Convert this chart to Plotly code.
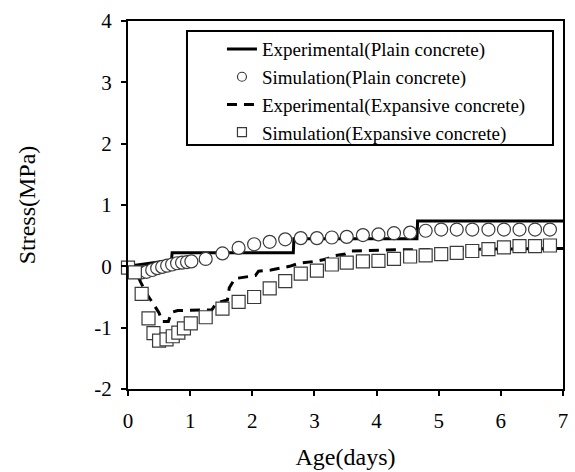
import plotly.graph_objects as go

# ---- data ----
exp_plain_x = [0, 0.70, 0.71, 2.66, 2.67, 4.65, 4.66, 7.0]
exp_plain_y = [0, 0.10, 0.22, 0.22, 0.45, 0.45, 0.74, 0.74]

sim_plain_x = [0.22, 0.30, 0.39, 0.47, 0.55, 0.63, 0.71, 0.79, 0.87, 0.95, 1.02, 1.25, 1.52,
               1.78, 2.03, 2.28, 2.53, 2.78, 3.04, 3.28, 3.52, 3.78, 4.03, 4.28, 4.54, 4.79,
               5.04, 5.29, 5.54, 5.80, 6.05, 6.30, 6.55, 6.79]
sim_plain_y = [-0.10, -0.09, -0.06, -0.03, -0.01, 0.01, 0.03, 0.05, 0.06, 0.07, 0.08, 0.12, 0.21,
               0.30, 0.36, 0.40, 0.44, 0.46, 0.46, 0.47, 0.48, 0.51, 0.52, 0.54, 0.55, 0.58,
               0.60, 0.60, 0.60, 0.60, 0.60, 0.60, 0.60, 0.60]

exp_exp_x = [0, 0.10, 0.20, 0.30, 0.40, 0.50, 0.55, 0.65, 0.70, 0.80, 1.35, 1.42, 1.60, 1.63,
             1.72, 1.90, 2.05, 2.10, 2.30, 2.45, 2.60, 2.75, 3.00, 3.20, 3.30, 3.50, 3.60,
             4.30, 7.0]
exp_exp_y = [0, -0.02, -0.25, -0.45, -0.60, -0.76, -0.90, -0.90, -0.75, -0.72, -0.71, -0.60,
             -0.55, -0.35, -0.20, -0.17, -0.15, -0.08, -0.06, -0.03, 0.00, 0.05, 0.08, 0.12,
             0.17, 0.20, 0.25, 0.27, 0.29]

sim_exp_x = [0.0, 0.11, 0.22, 0.33, 0.41, 0.50, 0.62, 0.72, 0.81, 0.90, 1.01, 1.25, 1.52, 1.78,
             2.03, 2.28, 2.53, 2.78, 3.04, 3.28, 3.52, 3.78, 4.03, 4.28, 4.54, 4.79, 5.04, 5.29,
             5.54, 5.80, 6.05, 6.30, 6.55, 6.79]
sim_exp_y = [-0.02, -0.10, -0.45, -0.85, -1.09, -1.21, -1.19, -1.14, -1.08, -1.01, -0.93, -0.83,
             -0.69, -0.58, -0.50, -0.36, -0.24, -0.12, -0.07, 0.03, 0.06, 0.08, 0.09, 0.12, 0.16,
             0.18, 0.20, 0.22, 0.25, 0.28, 0.31, 0.33, 0.33, 0.34]

x_ticks = [0, 1, 2, 3, 4, 5, 6, 7]
y_ticks = [-2, -1, 0, 1, 2, 3, 4]
y_ticktext = ["-2", "-1", "0", "1", "2", "3", "4"]

names = ["Experimental(Plain concrete)", "Simulation(Plain concrete)",
         "Experimental(Expansive concrete)", "Simulation(Expansive concrete)"]

FONT = "Liberation Serif, Times New Roman, serif"
DASH = "10px,7px"
MK_LINE = dict(color="#3a3a3a", width=1.2)

fig = go.Figure()

# data traces (no legend)
fig.add_trace(go.Scatter(x=exp_plain_x, y=exp_plain_y, mode="lines",
                         line=dict(color="black", width=3), showlegend=False))
fig.add_trace(go.Scatter(x=exp_exp_x, y=exp_exp_y, mode="lines",
                         line=dict(color="black", width=3, dash=DASH), showlegend=False))
fig.add_trace(go.Scatter(x=sim_plain_x, y=sim_plain_y, mode="markers",
                         marker=dict(symbol="circle", size=13, color="white", line=MK_LINE),
                         showlegend=False, cliponaxis=False))
fig.add_trace(go.Scatter(x=sim_exp_x, y=sim_exp_y, mode="markers",
                         marker=dict(symbol="square", size=13, color="white", line=MK_LINE),
                         showlegend=False, cliponaxis=False))

# legend entries
fig.add_trace(go.Scatter(x=[None], y=[None], mode="lines", name=names[0], legendgroup="a",
                         line=dict(color="black", width=3)))
fig.add_trace(go.Scatter(x=[None], y=[None], mode="markers", name=names[1], legendgroup="b",
                         marker=dict(symbol="circle", size=9, color="white", line=MK_LINE)))
fig.add_trace(go.Scatter(x=[None], y=[None], mode="lines", name=names[2], legendgroup="c",
                         line=dict(color="black", width=3, dash=DASH)))
fig.add_trace(go.Scatter(x=[None], y=[None], mode="markers", name=names[3], legendgroup="d",
                         marker=dict(symbol="square", size=9, color="white", line=MK_LINE)))

axis_common = dict(showgrid=False, zeroline=False, showline=True, linecolor="black",
                   linewidth=2, mirror=True, ticks="outside", ticklen=5, tickwidth=2,
                   tickcolor="black", automargin=False,
                   tickfont=dict(family=FONT, size=21, color="black"))

fig.update_layout(
    width=575, height=472,
    margin=dict(l=128, r=12, t=21, b=83),
    paper_bgcolor="white", plot_bgcolor="white",
    font=dict(family=FONT, color="black"),
    xaxis=dict(range=[0, 7], tickvals=x_ticks, ticklabelstandoff=7,
               title=dict(text="Age(days)", font=dict(family=FONT, size=24), standoff=16),
               **axis_common),
    yaxis=dict(range=[-2, 4], tickvals=y_ticks, ticktext=y_ticktext, ticklabelstandoff=5,
               title=dict(text="Stress(MPa)", font=dict(family=FONT, size=24), standoff=52),
               **axis_common),
    legend=dict(x=0.216, y=0.975, xanchor="left", yanchor="top",
                bgcolor="rgba(0,0,0,0)", borderwidth=0, tracegroupgap=0,
                font=dict(family=FONT, size=19, color="black")),
    shapes=[dict(type="rect", xref="paper", yref="paper",
                 x0=0.1356, x1=0.977, y0=0.663, y1=0.9728,
                 line=dict(color="black", width=2), fillcolor="rgba(0,0,0,0)")],
)

fig.write_html("out.html")
